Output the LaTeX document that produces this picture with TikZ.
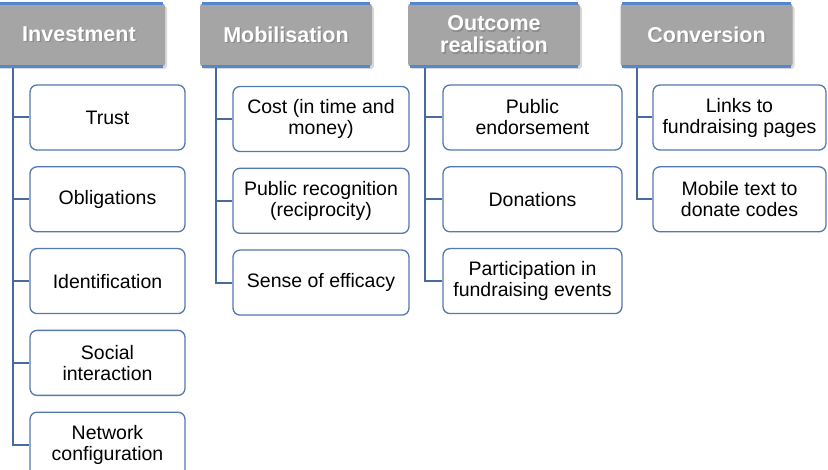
\documentclass[tikz,border=0pt]{standalone}
\usepackage{fontspec}
\setmainfont{Liberation Sans}
\usetikzlibrary{positioning,calc,shadows}
\definecolor{hdgray} {RGB}{165,165,165}
\definecolor{hdblue} {RGB}{ 84,135,205}
\definecolor{boxblue}{RGB}{ 84,120,176}
\definecolor{lnkblue}{RGB}{ 72,106,160}
\newcommand{\shtxt}[1]{\makebox[0pt][l]{\hspace{1.3pt}\raisebox{-1.3pt}{\color{black!45}#1}}#1}
\tikzset{
  hd/.style={fill=hdgray,rounded corners=3pt,
             minimum width=172pt,minimum height=63pt,inner sep=0pt,
             text=white,align=center,
             font=\fontsize{21.5}{22}\selectfont\bfseries,
             drop shadow={shadow xshift=2pt,shadow yshift=-2.5pt,
             opacity=0.3}},
  hdtop/.style={draw=hdblue,line width=2.5pt},
  hdbot/.style={draw=hdblue,line width=3.5pt},
  blk/.style={draw=boxblue,fill=white,rounded corners=7pt,line width=1.3pt,
              minimum height=65pt,inner sep=0pt,align=center,
              font=\fontsize{19.5}{21}\selectfont},
  lnk/.style={draw=lnkblue,line width=2pt},
}
\begin{document}
\begin{tikzpicture}[x=1pt,y=1pt]
\useasboundingbox (0,0) rectangle (828,-470);

% stage headers
\node[hd] (inv) at (79,-35)    {\shtxt{Investment}};
\node[hd] (mob) at (286,-35)   {\shtxt{Mobilisation}};
\node[hd] (out) at (494,-35)   {\shtxt{Outcome}\\\shtxt{realisation}};
\node[hd] (con) at (706.5,-35) {\shtxt{Conversion}};

% investment
\begin{scope}[blk/.append style={minimum width=155pt}]
\node[blk] (trust) at (107.5,-117.5) {Trust};
\node[blk,below=15.5pt of trust]  (oblig)  {Obligations};
\node[blk,below=15.5pt of oblig]  (ident)  {Identification};
\node[blk,below=15.5pt of ident]  (social) {Social\\interaction};
\node[blk,below=15.5pt of social] (netw)   {Network\\configuration};
\end{scope}

% mobilisation
\begin{scope}[blk/.append style={minimum width=176pt}]
\node[blk] (cost) at (321,-119) {Cost (in time and\\money)};
\node[blk,below=15.5pt of cost]  (recog) {Public recognition\\(reciprocity)};
\node[blk,below=15.5pt of recog] (effic) {Sense of efficacy};
\end{scope}

% outcome realisation
\begin{scope}[blk/.append style={minimum width=179pt}]
\node[blk] (endors) at (532.5,-117.5) {Public\\endorsement};
\node[blk,below=15.5pt of endors] (donat) {Donations};
\node[blk,below=15.5pt of donat]  (partic) {Participation in\\fundraising events};
\end{scope}

% conversion
\begin{scope}[blk/.append style={minimum width=173pt}]
\node[blk] (links) at (739.5,-117.5) {Links to\\fundraising pages};
\node[blk,below=15.5pt of links] (mobile) {Mobile text to\\donate codes};
\end{scope}

% connectors
\coordinate (invj) at (13,0 |- inv.south);
\coordinate (mobj) at (216,0 |- mob.south);
\coordinate (outj) at (425,0 |- out.south);
\coordinate (conj) at (637,0 |- con.south);
\foreach \c in {trust,oblig,ident,social,netw}
  \draw[lnk] (invj) |- (\c.west);
\foreach \c in {cost,recog,effic}
  \draw[lnk] (mobj) |- (\c.west);
\foreach \c in {endors,donat,partic}
  \draw[lnk] (outj) |- (\c.west);
\foreach \c in {links,mobile}
  \draw[lnk] (conj) |- (\c.west);

% header rules
\foreach \h in {inv,mob,out,con}{
  \draw[hdtop] ([xshift=2pt]\h.north west) -- ([xshift=-2pt]\h.north east);
  \draw[hdbot] ([xshift=2pt]\h.south west) -- ([xshift=-2pt]\h.south east);
}
\end{tikzpicture}
\end{document}
